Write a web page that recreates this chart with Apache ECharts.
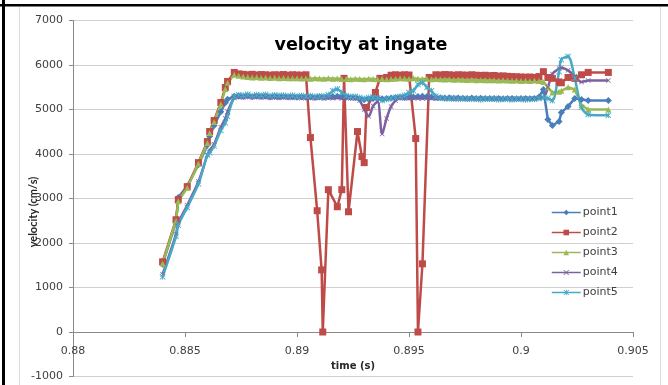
<!DOCTYPE html>
<html>
<head>
<meta charset="utf-8">
<script src="https://cdn.jsdelivr.net/npm/echarts@6/dist/echarts.min.js"></script>
<style>html,body{margin:0;padding:0;background:#fff;}#c{width:668px;height:385px;}</style>
</head>
<body>
<div id="c"></div>
<script>
// shared sample times for point1, point3, point4, point5 (s)
const time = [
0.8840,0.8846,0.8847,0.8851,0.8856,0.8860,0.8861,0.8863,0.8866,0.8868,0.8869,0.8872,
0.8874,0.8876,0.8878,0.8880,0.8882,0.8884,0.8886,0.8888,0.8890,0.8892,
0.8894,0.8896,0.8898,0.8900,0.8902,0.8904,0.8906,0.8908,0.8910,0.8912,
0.8914,0.8916,0.8918,0.8920,0.8922,0.8924,0.8926,0.8928,0.8930,0.8932,
0.8934,0.8936,0.8938,0.8940,0.8942,0.8944,0.8946,0.8948,0.8950,0.8952,
0.8954,0.8956,0.8958,0.8960,0.8962,0.8964,0.8966,0.8968,0.8970,0.8972,
0.8974,0.8976,0.8978,0.8980,0.8982,0.8984,0.8986,0.8988,0.8990,0.8992,
0.8994,0.8996,0.8998,0.9000,0.9002,0.9004,0.9006,0.9008,
0.9010,0.9012,0.9014,0.9017,0.9018,0.9021,0.9024,0.9027,0.9030,0.9039
];
const point1 = [
1520,2480,3020,3280,3760,4200,4400,4640,4950,5150,5230,5300,
5300,5290,5305,5285,5300,5290,5295,5280,5290,5285,
5290,5280,5285,5275,5285,5275,5280,5270,5280,5275,
5285,5290,5300,5290,5280,5270,5265,5240,5220,5230,
5250,5260,5240,5250,5260,5270,5275,5270,5275,5280,
5290,5300,5290,5280,5270,5265,5260,5265,5255,5260,
5255,5250,5260,5250,5255,5245,5250,5245,5250,5240,
5250,5245,5240,5250,5245,5240,5250,5280,
5450,4775,4640,4730,4930,5070,5250,5225,5200,5200
];
const point3 = [
1540,2500,2940,3240,3780,4250,4470,4720,5120,5460,5600,5780,
5760,5740,5730,5720,5725,5715,5720,5710,5715,5705,
5710,5700,5705,5700,5695,5700,5690,5700,5695,5690,
5700,5690,5695,5685,5690,5680,5690,5685,5680,5690,
5685,5680,5690,5680,5685,5690,5700,5695,5690,5700,
5690,5685,5690,5680,5685,5680,5675,5680,5670,5675,
5670,5665,5670,5660,5665,5660,5655,5660,5650,5655,
5650,5645,5650,5640,5645,5640,5650,5640,
5620,5500,5380,5400,5420,5500,5450,5100,5000,5000
];
const point4 = [
1300,2200,2450,2850,3380,3980,4080,4220,4600,4800,4950,5260,
5280,5270,5285,5275,5280,5270,5275,5265,5270,5260,
5270,5265,5260,5270,5255,5265,5260,5255,5265,5250,
5260,5255,5265,5250,5260,5255,5250,5200,5000,4850,
5080,5180,4450,4800,5070,5200,5260,5250,5255,5260,
5250,5245,5255,5250,5240,5250,5245,5240,5235,5245,
5240,5230,5240,5235,5230,5240,5235,5230,5240,5230,
5235,5240,5230,5235,5240,5250,5245,5255,
5260,5500,5800,5920,5940,5880,5750,5620,5650,5650
];
const point5 = [
1240,2150,2400,2800,3330,3980,4030,4180,4530,4700,4842,5290,
5330,5320,5340,5310,5330,5320,5335,5310,5325,5315,
5320,5305,5320,5300,5315,5300,5310,5290,5305,5300,
5330,5420,5460,5380,5310,5290,5290,5270,5250,5270,
5280,5260,5200,5230,5250,5270,5290,5320,5380,5420,
5560,5600,5500,5420,5300,5260,5250,5240,5260,5230,
5250,5240,5230,5250,5220,5240,5230,5250,5220,5240,
5230,5220,5240,5230,5220,5240,5230,5250,
5280,5250,5200,5850,6120,6190,5700,5050,4890,4870
];
// point2 has its own sample times
const time2 = [
0.8840,0.8846,0.8847,0.8851,0.8856,0.8860,0.8861,0.8863,0.8866,0.8868,0.8869,0.8872,
0.8874,0.8876,0.8878,0.8880,0.8882,0.8884,0.8886,0.8888,0.8890,0.8892,
0.8894,0.8896,0.8898,0.8900,0.8902,0.8904,
0.8906,0.8909,0.8911,0.89115,0.8914,0.8918,0.8920,0.8921,0.8923,0.8927,
0.8929,0.8930,0.8931,0.8935,0.8937,
0.8940,0.8942,0.8944,0.8946,0.8948,0.8950,
0.8953,0.8954,0.8956,0.8959,
0.8962,0.8964,0.8966,0.8968,0.8970,0.8972,0.8974,0.8976,0.8978,0.8980,
0.8982,0.8984,0.8986,0.8988,0.8990,0.8992,0.8994,0.8996,0.8998,0.9000,
0.9002,0.9004,0.9006,0.9008,
0.9010,0.9012,0.9014,0.9017,0.9018,0.9021,0.9024,0.9027,0.9030,0.9039
];
const point2 = [
1577,2523,2973,3266,3806,4279,4505,4752,5157,5495,5630,5833,
5800,5790,5780,5790,5775,5785,5780,5770,5780,5775,
5785,5770,5780,5775,5770,5780,
4369,2725,1396,0,3198,2815,3198,5700,2702,4505,
3941,3806,5045,5383,5700,
5720,5770,5780,5770,5780,5775,
4347,0,1532,5720,
5780,5775,5785,5780,5770,5780,5775,5770,5780,5770,
5765,5770,5760,5765,5750,5755,5745,5740,5735,5730,
5725,5730,5720,5740,
5850,5720,5700,5620,5600,5720,5700,5780,5833,5833
];
const seriesNames = ['point1','point2','point3','point4','point5'];
const xTicks = {min:0.88, max:0.905, step:0.005};
const yTicks = {min:-1000, max:7000, step:1000};

const pair = (t, v) => t.map((x, i) => [x, v[i]]);
const colors = ['#4A7EBB','#BE4B48','#98B954','#7D60A0','#46AAC5'];
const crossPath = 'path://M0,1L1,0L5,4L9,0L10,1L6,5L10,9L9,10L5,6L1,10L0,9L4,5Z';
const starPath = 'path://M0,1L1,0L5,4L9,0L10,1L6,5L10,9L9,10L5,6L1,10L0,9L4,5Z M4.3,0L5.7,0L5.7,10L4.3,10Z';
const symbols = ['diamond','rect','triangle',crossPath,starPath];
const sizes = [7,7,6,5,6];
const smooth = [false,false,false,0.3,0.3];
const dataSets = [pair(time,point1), pair(time2,point2), pair(time,point3), pair(time,point4), pair(time,point5)];

const GRID = {left:73, right:35, top:20.5, bottom:8.5};
const chart = echarts.init(document.getElementById('c'), null, {renderer:'canvas'});
const plotH = 385 - GRID.top - GRID.bottom;
const zeroOffset = -plotH * (0 - yTicks.min) / (yTicks.max - yTicks.min);
const labelFont = 'DejaVu Sans';
chart.setOption({
  animation:false,
  backgroundColor:'#ffffff',
  color:colors,
  grid:Object.assign({containLabel:false, outerBoundsMode:'none'}, GRID),
  legend:{
    orient:'vertical', left:546, top:202, itemWidth:29, itemHeight:7, itemGap:9,
    lineStyle:{width:1.5},
    textStyle:{fontFamily:labelFont, fontSize:11, color:'#404040', padding:[0,0,0,-3]},
    data:seriesNames
  },
  xAxis:{
    type:'value', min:xTicks.min, max:xTicks.max, interval:xTicks.step,
    offset:zeroOffset,
    axisLine:{onZero:false, lineStyle:{color:'#8a8a8a', width:1}},
    axisTick:{show:true, length:5, lineStyle:{color:'#8a8a8a'}},
    splitLine:{show:false},
    axisLabel:{margin:14, fontFamily:labelFont, fontSize:11, color:'#404040',
      formatter:v => String(+(+v).toFixed(3))},
    name:'time (s)', nameLocation:'middle', nameGap:25,
    nameTextStyle:{fontFamily:labelFont, fontWeight:'bold', fontSize:10, color:'#262626'}
  },
  yAxis:{
    type:'value', min:yTicks.min, max:yTicks.max, interval:yTicks.step,
    axisLine:{show:true, onZero:false, lineStyle:{color:'#8a8a8a', width:1}},
    axisTick:{show:true, length:4, lineStyle:{color:'#8a8a8a'}},
    splitLine:{show:true, lineStyle:{color:'#cfcfcf', width:1}},
    axisLabel:{margin:10, fontFamily:labelFont, fontSize:11, color:'#404040',
      formatter:v => String(v)}
  },
  graphic:[
    {type:'rect', silent:true, z:100, shape:{x:0,y:4,width:668,height:2.5}, style:{fill:'#000'}},
    {type:'rect', silent:true, z:100, shape:{x:2,y:0,width:3,height:385}, style:{fill:'#000'}},
    {type:'line', silent:true, shape:{x1:19.5,y1:7,x2:19.5,y2:385}, style:{stroke:'#dcdcdc', lineWidth:1}},
    {type:'line', silent:true, shape:{x1:660.5,y1:7,x2:660.5,y2:385}, style:{stroke:'#dcdcdc', lineWidth:1}},
    {type:'text', silent:true, x:361, y:45, z:50,
      style:{text:'velocity at ingate', fontFamily:labelFont, fontWeight:'bold', fontSize:17.5,
        fill:'#000', textAlign:'center', textVerticalAlign:'middle'}},
    {type:'text', silent:true, x:33, y:212, rotation:Math.PI/2, z:50,
      style:{text:'velocity (cm/s)', fontFamily:'Lato', fontWeight:'bold', fontSize:11,
        fill:'#262626', textAlign:'center', textVerticalAlign:'middle'}}
  ],
  series:seriesNames.map((n, i) => ({
    name:n, type:'line', data:dataSets[i],
    symbol:symbols[i], symbolSize:sizes[i], showSymbol:true, smooth:smooth[i],
    lineStyle:{width:2.5, color:colors[i]},
    itemStyle:{color:colors[i]},
    emphasis:{disabled:true}
  }))
});
</script>
</body>
</html>
